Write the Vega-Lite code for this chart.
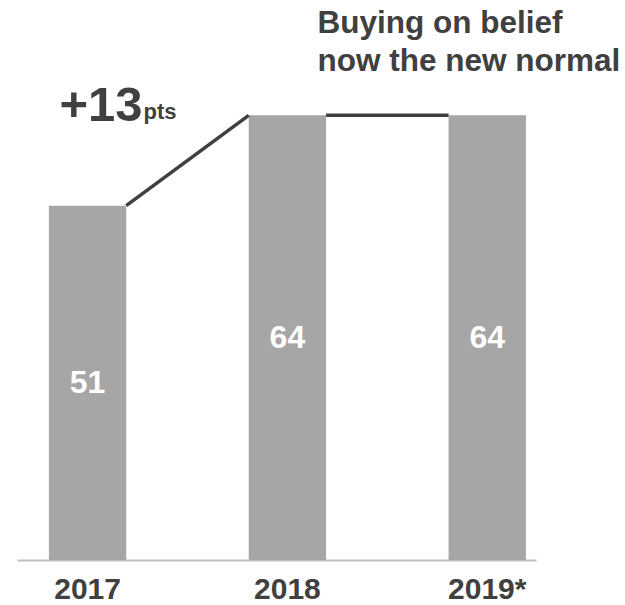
{
  "$schema": "https://vega.github.io/schema/vega-lite/v6.json",
  "width": 519,
  "height": 560,
  "autosize": {"type": "none"},
  "padding": {"left": 17, "right": 89, "top": 0, "bottom": 45},
  "config": {
    "view": {"stroke": null},
    "font": "Liberation Sans",
    "text": {"font": "Liberation Sans"}
  },
  "datasets": {
    "bars": [
      {"year": "2017", "value": 51},
      {"year": "2018", "value": 64},
      {"year": "2019*", "value": 64}
    ],
    "links": [
      {"from": "2017", "to": "2018", "v0": 51, "v1": 64},
      {"from": "2018", "to": "2019*", "v0": 64, "v1": 64}
    ]
  },
  "resolve": {"scale": {"y": "independent"}},
  "layer": [
    {
      "data": {"name": "bars"},
      "mark": {"type": "bar", "color": "#a6a6a6"},
      "encoding": {
        "x": {
          "field": "year",
          "type": "nominal",
          "sort": null,
          "scale": {"paddingInner": 0.613, "paddingOuter": 0.105, "align": 0.76},
          "axis": {
            "title": null,
            "labelAngle": 0,
            "labelFontSize": 30,
            "labelFont": "Liberation Sans",
            "labelFontWeight": "bold",
            "labelColor": "#404040",
            "labelPadding": 14,
            "ticks": false,
            "tickSize": 0,
            "domainColor": "#c0c0c0",
            "domainWidth": 2
          }
        },
        "y": {
          "field": "value",
          "type": "quantitative",
          "scale": {"domain": [0, 80.6], "nice": false, "zero": true},
          "axis": null
        }
      }
    },
    {
      "data": {"name": "links"},
      "mark": {"type": "rule", "color": "#404040", "strokeWidth": 3.5},
      "encoding": {
        "x": {"field": "from", "type": "nominal", "bandPosition": 1},
        "x2": {"field": "to", "bandPosition": 0},
        "y": {
          "field": "v0",
          "type": "quantitative",
          "scale": {"domain": [0, 80.6], "nice": false},
          "axis": null
        },
        "y2": {"field": "v1"}
      }
    },
    {
      "data": {"name": "bars"},
      "mark": {
        "type": "text",
        "color": "#ffffff",
        "fontSize": 32,
        "fontWeight": "bold",
        "baseline": "middle",
        "align": "center"
      },
      "encoding": {
        "x": {"field": "year", "type": "nominal", "sort": null},
        "y": {
          "field": "value",
          "type": "quantitative",
          "scale": {"domain": [0, 161.2], "nice": false},
          "axis": null
        },
        "text": {"field": "value", "type": "quantitative"}
      }
    },
    {
      "data": {"values": [{}]},
      "layer": [
        {
          "mark": {
            "type": "text",
            "text": "+13",
            "color": "#404040",
            "fontSize": 49,
            "fontWeight": "bold",
            "align": "right",
            "baseline": "alphabetic",
            "dx": 55,
            "dy": 6
          },
          "encoding": {
            "x": {"datum": "2017", "type": "nominal"},
            "y": {"datum": 64, "type": "quantitative", "scale": {"domain": [0, 80.6], "nice": false}, "axis": null}
          }
        },
        {
          "mark": {
            "type": "text",
            "text": "pts",
            "color": "#404040",
            "fontSize": 22,
            "fontWeight": "bold",
            "align": "left",
            "baseline": "alphabetic",
            "dx": 56,
            "dy": 4
          },
          "encoding": {
            "x": {"datum": "2017", "type": "nominal"},
            "y": {"datum": 64, "type": "quantitative", "scale": {"domain": [0, 80.6], "nice": false}, "axis": null}
          }
        },
        {
          "mark": {
            "type": "text",
            "text": ["Buying on belief", "now the new normal"],
            "color": "#404040",
            "fontSize": 31.5,
            "fontWeight": "bold",
            "align": "left",
            "baseline": "alphabetic",
            "lineHeight": 37.5,
            "dx": 30,
            "dy": -82
          },
          "encoding": {
            "x": {"datum": "2018", "type": "nominal"},
            "y": {"datum": 64, "type": "quantitative", "scale": {"domain": [0, 80.6], "nice": false}, "axis": null}
          }
        }
      ]
    }
  ]
}
